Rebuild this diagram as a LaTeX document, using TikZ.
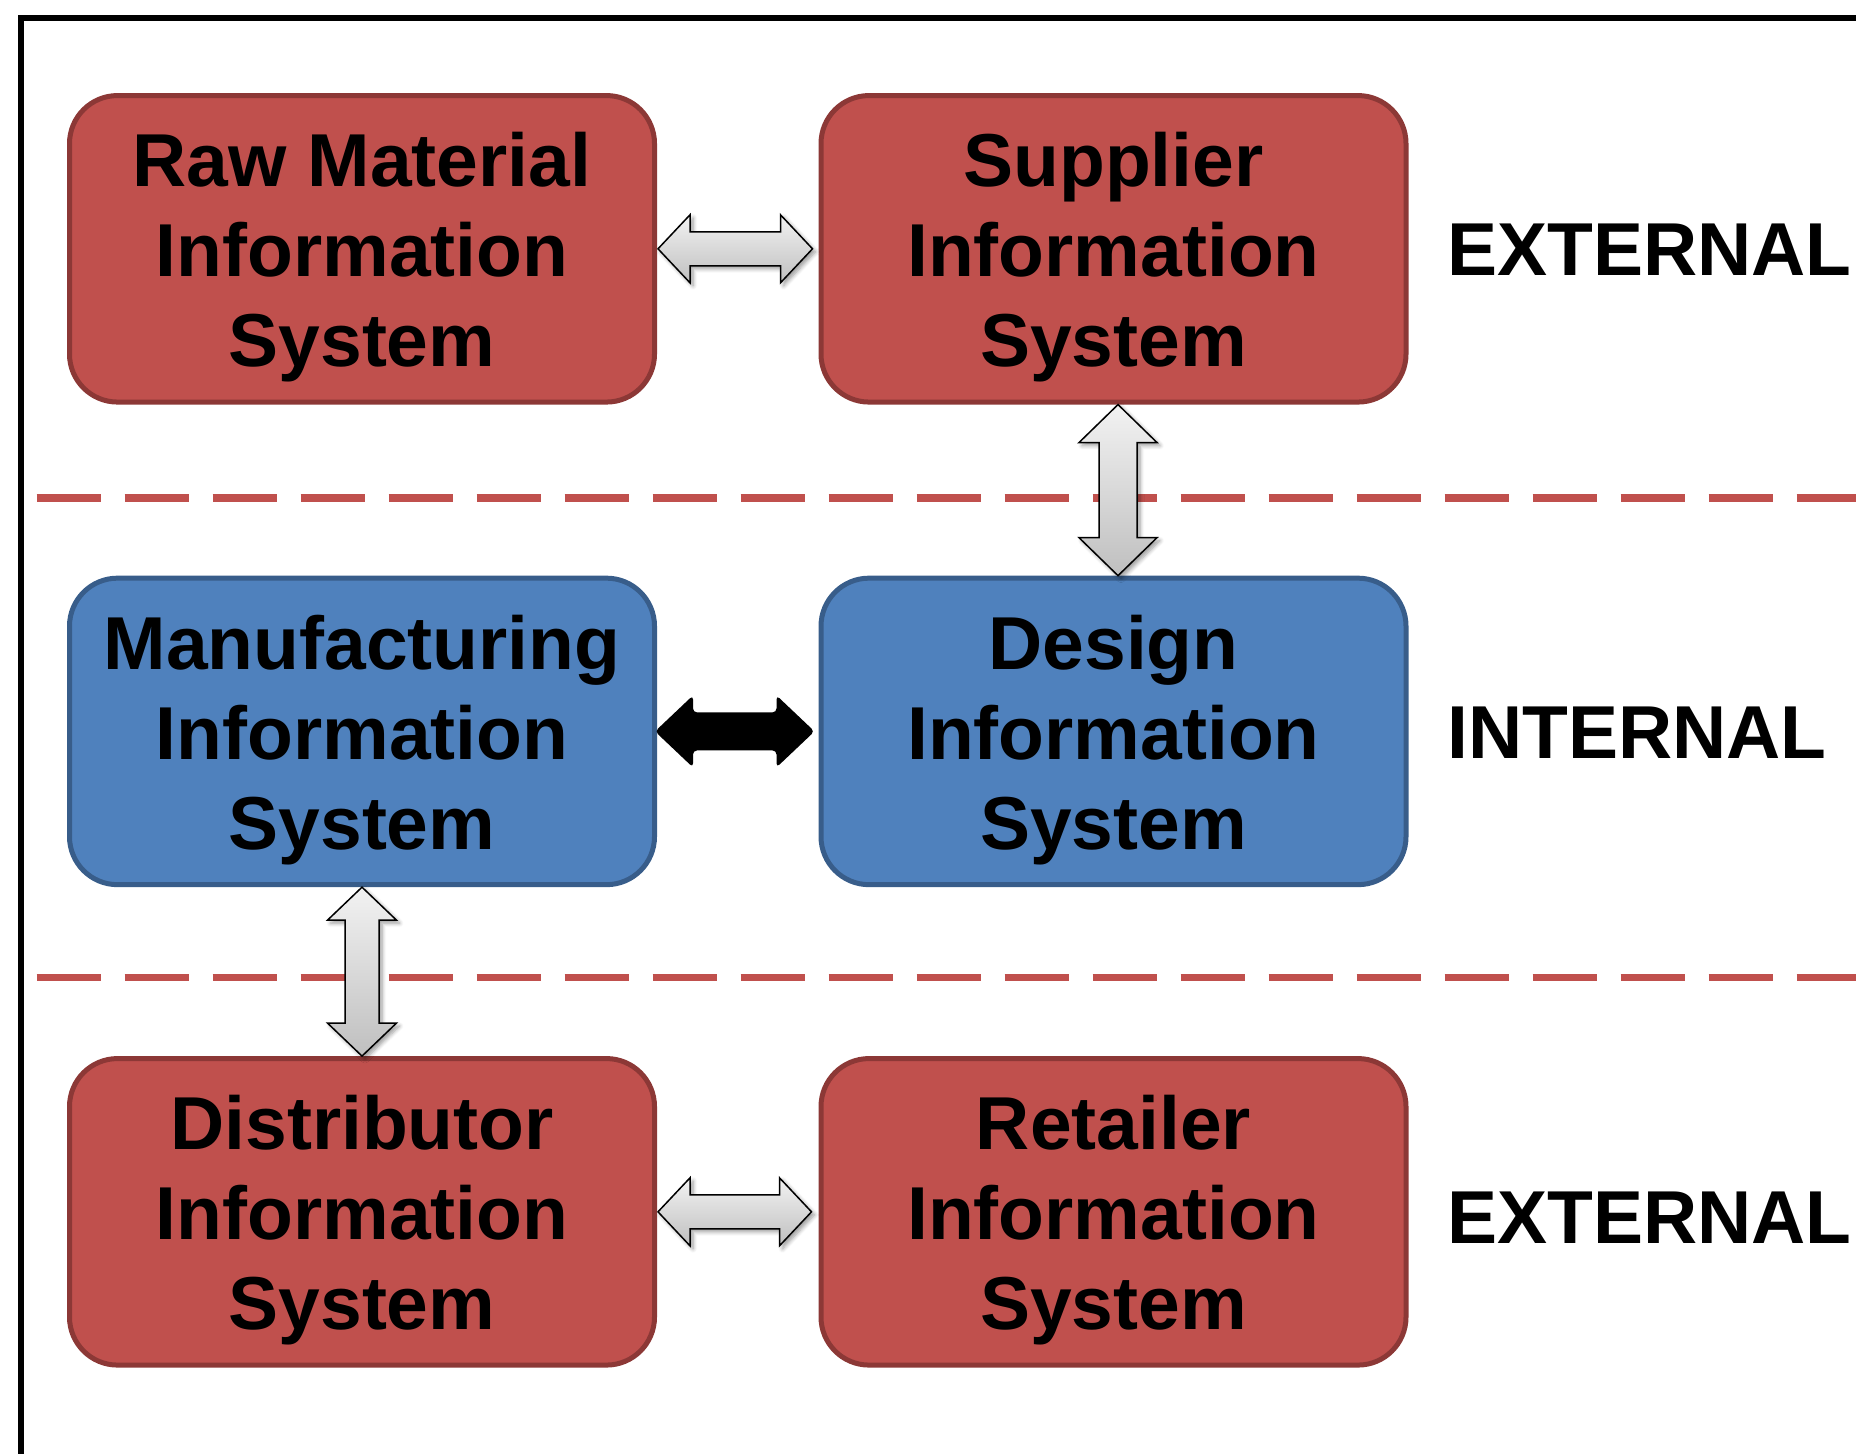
\documentclass[tikz,border=0pt]{standalone}
\usepackage{fontspec}
\setmainfont{Liberation Sans}
\usetikzlibrary{calc,shadows.blur}

\definecolor{redfill}{HTML}{C0504D}
\definecolor{redline}{HTML}{8C3836}
\definecolor{bluefill}{HTML}{4F81BD}
\definecolor{blueline}{HTML}{385D8A}

% taller first line so the middle line sits on the box centre
\newcommand\linestrut{\rule{0pt}{35.4pt}}

\begin{document}
\begin{tikzpicture}[x=0.5pt,y=-0.5pt,
  sysbox/.style={rounded corners=24pt, line width=2.5pt,
    minimum width=292.5pt, minimum height=153.25pt, inner sep=0pt,
    align=center, font=\fontsize{37.5pt}{45pt}\selectfont\bfseries},
  extbox/.style={sysbox, fill=redfill, draw=redline},
  intbox/.style={sysbox, fill=bluefill, draw=blueline},
  zone/.style={anchor=west, inner sep=0pt,
    font=\fontsize{37.5pt}{45pt}\selectfont\bfseries},
  boundary/.style={draw=redfill, line width=3.75pt, dash pattern=on 32pt off 12pt},
  flow/.style={draw=black, line width=0.75pt, line join=miter,
    top color=gray!10, bottom color=gray!50,
    blur shadow={shadow xshift=1.5pt, shadow yshift=-1.5pt,
      shadow blur radius=2pt, shadow blur steps=6, shadow opacity=40}},
  mainflow/.style={fill=black, rounded corners=2pt},
  % horizontal double block arrow: head length, head half-width, shaft half-width
  hdouble/.style n args={3}{to path={
    -- ($(\tikztostart)+(#1,-#2)$) -- ($(\tikztostart)+(#1,-#3)$)
    -- ($(\tikztotarget)+(-#1,-#3)$) -- ($(\tikztotarget)+(-#1,-#2)$)
    -- (\tikztotarget)
    -- ($(\tikztotarget)+(-#1,#2)$) -- ($(\tikztotarget)+(-#1,#3)$)
    -- ($(\tikztostart)+(#1,#3)$) -- ($(\tikztostart)+(#1,#2)$)
    -- cycle}},
  % vertical double block arrow, drawn from the upper tip to the lower tip
  vdouble/.style n args={3}{to path={
    -- ($(\tikztostart)+(#2,#1)$) -- ($(\tikztostart)+(#3,#1)$)
    -- ($(\tikztotarget)+(#3,-#1)$) -- ($(\tikztotarget)+(#2,-#1)$)
    -- (\tikztotarget)
    -- ($(\tikztotarget)+(-#2,-#1)$) -- ($(\tikztotarget)+(-#3,-#1)$)
    -- ($(\tikztostart)+(-#3,#1)$) -- ($(\tikztostart)+(-#2,#1)$)
    -- cycle}},
]
\useasboundingbox (0,0) rectangle (1856,1453);
\clip (0,0) rectangle (1856,1453);

% outer frame (open to the right and bottom)
\draw[line width=2.75pt] (21,1500) -- (21,18) -- (1900,18);

% zone boundaries
\draw[boundary] (36.7,498) -- (1900,498);
\draw[boundary] (36.7,977.7) -- (1900,977.7);

% information systems
\node[extbox] (raw)  at (362,248.8)    {\linestrut Raw Material\\Information\\System};
\node[extbox] (sup)  at (1113.5,248.8) {\linestrut Supplier\\Information\\System};
\node[intbox] (man)  at (362,731.4)    {\linestrut Manufacturing\\Information\\System};
\node[intbox] (des)  at (1113.5,731.4) {\linestrut Design\\Information\\System};
\node[extbox] (dist) at (362,1211.8)   {\linestrut Distributor\\Information\\System};
\node[extbox] (ret)  at (1113.5,1211.8){\linestrut Retailer\\Information\\System};

% zone labels
\node[zone] (zext1) at (1447,249.7) {EXTERNAL};
\node[zone] (zint)  at (1447,732.7) {INTERNAL};
\node[zone] (zext2) at (1447,1218)  {EXTERNAL};

% information flows
\path[flow] ($(raw.east)+(1,0)$) to[hdouble={32}{34}{17}] ($(sup.west)+(-6,0)$);
\path[flow] ($(dist.east)+(1,0)$) to[hdouble={32}{34}{17}] ($(ret.west)+(-7,0)$);
\path[flow] ($(sup.south)+(4.5,0)$) to[vdouble={38}{39}{19}] ($(des.north)+(4.5,0)$);
\path[flow] (man.south) to[vdouble={33}{34.5}{17}] (dist.north);
\path[mainflow] ($(man.east)+(-2,0)$) to[hdouble={38}{36}{19}] ($(des.west)+(-4,0)$);
\end{tikzpicture}
\end{document}
